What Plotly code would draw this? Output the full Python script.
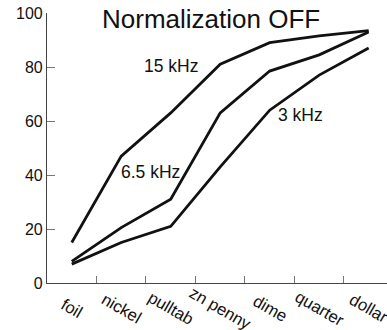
import plotly.graph_objects as go

materials = ["foil", "nickel", "pulltab", "zn penny", "dime", "quarter", "dollar"]
khz_15 = [15, 47, 63, 81, 89, 91.5, 93.5]
khz_6_5 = [8, 20.5, 31, 63, 78.5, 84.5, 93]
khz_3 = [7, 15, 21, 43, 64, 77, 87]

series = [("15 kHz", khz_15), ("6.5 kHz", khz_6_5), ("3 kHz", khz_3)]

fig = go.Figure()
for name, vals in series:
    fig.add_trace(go.Scatter(x=materials, y=vals, mode="lines", name=name,
                             line=dict(color="#111111", width=2.8)))

# series labels placed next to the curves
labels = [("15 kHz", 2.0, 80.2), ("6.5 kHz", 1.6, 41.2), ("3 kHz", 4.62, 62.2)]
for txt, xi, yi in labels:
    fig.add_annotation(x=xi, y=yi, text=txt, showarrow=False,
                       font=dict(size=17.5, color="#111111"))

# rotated category labels, centred under each category
for i, m in enumerate(materials):
    fig.add_annotation(x=i, y=-0.095, yref="paper", text=m, textangle=30,
                       showarrow=False, xanchor="center", yanchor="middle",
                       font=dict(size=16.7, color="#111111"))

fig.add_annotation(x=0.482, y=0.978, xref="paper", yref="paper", text="Normalization OFF",
                   showarrow=False, yanchor="middle",
                   font=dict(size=26, color="#111111"))

fig.update_layout(
    width=387, height=330,
    margin=dict(l=47, r=0, t=13, b=47),
    plot_bgcolor="white", paper_bgcolor="white",
    showlegend=False,
    font=dict(family="Liberation Sans, Arial, sans-serif", color="#111111"),
)
fig.update_xaxes(
    type="category", range=[-0.5, 6.37], tickson="boundaries",
    ticks="inside", ticklen=7, tickcolor="#777777",
    showline=True, linecolor="#444444", linewidth=1.2,
    showgrid=False, zeroline=False, showticklabels=False,
)
fig.update_yaxes(
    range=[0, 100], tickvals=[0, 20, 40, 60, 80, 100],
    ticks="inside", ticklen=8, tickcolor="#777777",
    showline=True, linecolor="#444444", linewidth=1.2,
    showgrid=False, zeroline=False,
    tickfont=dict(size=16),
)

# drop the browser's default 8px body margin so the figure sits at the page corner
fig.write_html("out.html", config={"displayModeBar": False},
               post_script="document.body.style.margin='0';")
